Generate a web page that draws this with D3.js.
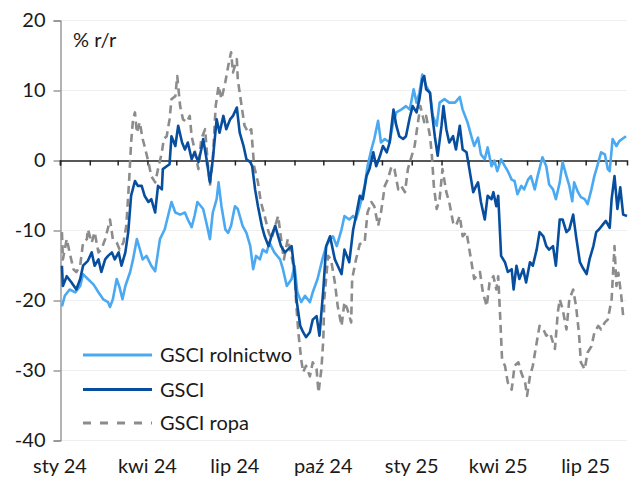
<!DOCTYPE html>
<html><head><meta charset="utf-8">
<script src="https://cdn.jsdelivr.net/npm/d3@7"></script>
<style>
html,body{margin:0;padding:0;background:#fff;}
svg{display:block;font-family:Lato,"Open Sans",sans-serif;}
</style></head>
<body><svg id="c" width="629" height="478"></svg>
<script>
// Data: [days since 2024-01-01, % y/y]
const seriesNames = ["GSCI rolnictwo", "GSCI", "GSCI ropa"];
const gsciRolnictwo = [[2,-20.9],[5,-19.4],[10,-18.5],[16,-18.9],[21,-18],[24,-16.3],[29,-17],[35,-17.8],[40,-18.9],[45,-19.9],[50,-20.3],[52,-21],[55,-19.9],[59,-17],[62,-18.2],[65,-19.9],[68,-18],[73,-16],[76,-14.2],[80,-11.3],[83,-12.7],[86,-14.2],[90,-13.7],[95,-15.1],[99,-15.9],[104,-11.3],[109,-9.9],[116,-6],[120,-7.5],[125,-7.8],[130,-7.5],[133,-8.5],[137,-9.6],[140,-8],[143,-6],[149,-7],[153,-9.4],[156,-11.3],[159,-7.5],[163,-5.6],[165,-3.2],[168,-6.6],[172,-9.9],[175,-10.4],[178,-9.4],[182,-6.6],[185,-7],[190,-9.4],[194,-10.4],[198,-12.3],[201,-15.6],[204,-13.7],[208,-14.2],[211,-12.8],[215,-13.2],[218,-11.8],[223,-13.2],[229,-14.2],[232,-15.6],[236,-18],[241,-17],[244,-15.1],[247,-18.9],[251,-20.3],[255,-19.4],[260,-20.3],[263,-18.9],[268,-17],[273,-14.2],[277,-12.3],[281,-11.3],[284,-10.9],[288,-12.3],[293,-9.9],[296,-8],[301,-8.5],[305,-8],[308,-8.5],[312,-6.6],[317,-3.7],[320,-0.9],[324,1.5],[327,3],[331,5.6],[334,2.5],[338,3],[343,2.5],[346,4.9],[350,6.8],[355,7.2],[360,7.7],[364,7.2],[368,10.1],[371,8.2],[374,9.6],[377,12.2],[381,10.6],[385,9.6],[388,6.3],[392,4.9],[395,8.2],[400,8.7],[405,8.2],[411,8.2],[416,9],[419,7.2],[424,5.4],[428,3.4],[431,2],[435,3.2],[438,0.8],[442,0.1],[445,1.8],[449,-0.9],[452,-0.1],[455,-1.6],[459,0.1],[463,-0.9],[466,-1.6],[470,-2.8],[473,-3],[476,-4.9],[480,-3.7],[483,-4.2],[487,-2.8],[490,-2.3],[494,-4.2],[497,-2.3],[502,0.4],[506,-0.9],[509,-3.5],[513,-4.2],[516,-5.6],[520,-3.2],[523,-0.3],[527,-2.3],[530,-3.7],[533,-5.9],[535,-3.2],[539,-4.6],[542,-5.3],[546,-5.6],[549,-6.3],[553,-4.2],[556,-2.3],[559,-0.9],[563,1.1],[567,0.8],[570,-1.3],[572,-1.6],[575,3],[579,2],[582,2.7],[585,3],[589,3.4]];
const gsci = [[2,-15.1],[3,-18],[7,-16.6],[12,-17.5],[17,-18.5],[21,-17],[24,-15.1],[29,-14.4],[33,-13.2],[36,-15.1],[40,-14.2],[43,-16],[47,-14.2],[50,-13.7],[54,-13.2],[57,-14.2],[61,-13.2],[64,-15.1],[68,-13.2],[71,-10.3],[74,-5.1],[78,-3],[81,-3.7],[85,-3.7],[88,-5.1],[92,-6],[95,-5.6],[99,-7.5],[102,-3.7],[106,-4.2],[107,-1.3],[111,-0.9],[114,-0.6],[116,3.4],[120,2],[123,4.9],[127,2.5],[130,1.5],[133,2.5],[137,0.1],[140,1.1],[144,-0.3],[147,1.5],[149,3],[153,-0.3],[156,-3.2],[159,0.1],[163,5.8],[166,3.9],[170,6.3],[173,4.4],[177,5.8],[180,6.3],[184,7.5],[187,3.9],[191,2],[194,0.1],[198,-0.3],[200,-0.9],[203,-4.2],[206,-6.6],[210,-9.4],[213,-10.9],[217,-12.3],[220,-10.9],[224,-9.4],[227,-10.9],[230,-12.3],[234,-13.2],[237,-12.8],[241,-12.3],[244,-16],[246,-19.9],[250,-23.7],[253,-24.6],[256,-25.3],[260,-24.6],[263,-22.8],[267,-22.3],[270,-25.1],[274,-18.5],[277,-12.3],[281,-10.9],[286,-14.2],[289,-15.1],[293,-16.3],[296,-12.8],[301,-14.6],[305,-10],[308,-8],[312,-5.1],[315,-5.6],[319,-2.3],[322,-1.3],[326,1.1],[329,-0.9],[333,0.6],[336,2],[340,1.1],[343,2.5],[347,7.2],[350,4.9],[353,3.4],[357,3],[360,3.4],[364,6.1],[367,7.7],[371,6.8],[374,8.7],[377,11.5],[379,12],[381,10.1],[385,9.6],[387,6.8],[390,3.4],[393,0.6],[397,4.9],[399,7.7],[402,4.4],[405,2.5],[409,3.4],[412,1.5],[416,4.9],[419,1.5],[423,1.1],[426,-1.3],[430,-4.6],[433,-3.7],[435,-3.2],[438,-6],[442,-8.5],[445,-5.1],[449,-5.6],[451,-4.6],[454,-6.6],[456,-5.1],[459,-13.7],[463,-14.6],[466,-16],[470,-15.6],[472,-18.5],[475,-15.1],[478,-17],[482,-15.6],[485,-17.5],[489,-14.6],[492,-15.1],[496,-12.8],[499,-10.3],[503,-10.9],[506,-12.3],[509,-12.8],[513,-12.3],[516,-15.1],[520,-8.5],[523,-8.5],[527,-10.3],[530,-9.9],[534,-7.8],[537,-10.9],[541,-14.6],[544,-15.4],[548,-16.3],[551,-14.2],[555,-12.3],[558,-10.3],[561,-9.9],[565,-9.2],[568,-8.7],[572,-9.7],[574,-5.6],[577,-2.3],[580,-7],[583,-3.9],[586,-7.8],[590,-8]];
const gsciRopa = [[2,-10.3],[3,-14.2],[7,-11.3],[10,-13.2],[14,-15.6],[17,-16],[21,-15.1],[24,-11.8],[28,-11.3],[29,-9.9],[33,-11.8],[36,-10.3],[40,-13.2],[43,-12.8],[47,-11.3],[50,-9.7],[52,-8.5],[55,-11.3],[59,-11.8],[62,-12.8],[66,-11.8],[69,-9.4],[72,-2.8],[74,2.5],[76,5.8],[78,6.8],[80,3.9],[83,5.4],[86,3],[88,2],[92,-0.3],[95,-2.3],[99,-3.2],[102,-1.3],[106,1.1],[108,3],[111,3.4],[114,5.8],[116,8.7],[120,9.1],[122,12],[125,7.7],[128,5.8],[132,5.4],[135,6.3],[137,3.4],[140,1.5],[144,-1.3],[147,3],[151,4.4],[154,-0.9],[156,-3.7],[159,0.1],[162,7.7],[165,10.6],[168,8.7],[172,11.1],[175,13.4],[178,15.4],[180,12.5],[184,14.4],[185,11.5],[189,7.7],[192,4.9],[196,3.9],[199,4.4],[202,-0.9],[206,-3.2],[209,-6],[213,-8],[217,-10.3],[220,-11.3],[224,-9.4],[227,-8],[231,-12.3],[233,-14.2],[237,-11.3],[241,-13.7],[244,-16],[246,-20.9],[248,-24.6],[251,-28.5],[253,-30.3],[256,-29.4],[260,-30.9],[263,-28.9],[267,-29.9],[269,-33.2],[272,-29.9],[274,-25.6],[275,-19.9],[279,-13.7],[282,-14.2],[286,-17.5],[289,-20.9],[293,-23.7],[296,-20.3],[299,-21.3],[303,-23.2],[304,-17],[308,-14.2],[312,-12],[317,-11.8],[320,-7.5],[324,-6],[327,-6.6],[331,-9.4],[334,-7.5],[338,-3.7],[341,-2.8],[345,-0.9],[348,-1.3],[352,-4.2],[355,-3.7],[359,-4.6],[362,-1.3],[366,0.6],[369,2],[372,4.9],[375,7.7],[379,5.4],[381,6.3],[385,3.4],[387,0.6],[389,-3.7],[392,-7],[395,-5.6],[398,-1.3],[402,-4.6],[405,-6],[409,-8.9],[412,-9.4],[416,-8],[419,-10.9],[423,-10.3],[426,-12.8],[431,-17],[437,-16],[440,-18.9],[444,-20.9],[447,-17.5],[451,-16.6],[454,-18.5],[456,-16.6],[458,-22.3],[460,-28.5],[463,-29.4],[466,-31.8],[470,-32.8],[473,-29.4],[477,-28.9],[480,-30.4],[484,-31.8],[486,-33.7],[489,-30.9],[492,-29.4],[496,-26.1],[499,-23.7],[503,-24.2],[506,-25.1],[510,-24.7],[515,-27],[518,-21.8],[520,-19.9],[523,-21.3],[527,-24.2],[530,-19.9],[534,-18.5],[537,-20.9],[540,-24.7],[542,-28.9],[546,-29.9],[549,-27.5],[553,-26.6],[556,-24.7],[560,-23.7],[563,-24.2],[567,-23.2],[570,-22.8],[574,-19.9],[577,-12.3],[579,-18],[581,-16.1],[584,-19.4],[586,-22.3],[589,-22.3]];
const yTicks = [-40, -30, -20, -10, 0, 10, 20];
const monthLabels = ["sty","lut","mar","kwi","maj","cze","lip","sie","wrz","paź","lis","gru"];
const labeledMonths = [0, 3, 6, 9];
const yTitle = "% r/r";

const colors = ["#4ba9f2", "#074e9e", "#8c8c8c"];
const start = new Date(2024, 0, 1);
const toDate = d => d3.timeDay.offset(start, d);

const svg = d3.select("#c");
const x = d3.scaleTime().domain([start, new Date(2025, 7, 13)]).range([60, 627]);
const y = d3.scaleLinear().domain([-40, 20]).range([440, 20]);
const font = "Lato, 'Open Sans', sans-serif";
const fs = 20;

// grid
svg.append("g").selectAll("line").data(yTicks.filter(v => v !== 0)).join("line")
  .attr("x1", 60).attr("x2", 627)
  .attr("y1", d => Math.round(y(d)) + 0.5).attr("y2", d => Math.round(y(d)) + 0.5)
  .attr("stroke", "#efefef").attr("stroke-width", 1);

// y axis
const yAxis = svg.append("g").attr("transform", "translate(60.5,0.5)")
  .call(d3.axisLeft(y).tickValues(yTicks).tickSize(7).tickPadding(8).tickFormat(d3.format("d")));
yAxis.select(".domain").attr("stroke", "#808080").attr("stroke-width", 1.2);
yAxis.selectAll(".tick line").attr("stroke", "#808080").attr("stroke-width", 1.2);
yAxis.selectAll("text").attr("font-size", fs).attr("font-family", font).attr("fill", "#1a1a1a")
  .text(d => d < 0 ? "-" + Math.abs(d) : d);

// zero line with monthly ticks
const zeroY = Math.round(y(0)) + 0.5;
const xAxis = svg.append("g").attr("transform", `translate(0,${zeroY})`)
  .call(d3.axisBottom(x).ticks(d3.timeMonth.every(1)).tickSize(5).tickFormat(""));
xAxis.select(".domain").attr("stroke", "#222").attr("stroke-width", 1.5);
xAxis.selectAll(".tick line").attr("stroke", "#222").attr("stroke-width", 1.5);

// x labels
const labelDates = d3.timeMonth.range(start, new Date(2025, 7, 2)).filter(d => labeledMonths.includes(d.getMonth()));
svg.append("g").selectAll("text").data(labelDates).join("text")
  .attr("x", d => x(d)).attr("y", 473).attr("text-anchor", "middle")
  .attr("font-size", fs).attr("font-family", font).attr("fill", "#1a1a1a")
  .text(d => monthLabels[d.getMonth()] + " " + String(d.getFullYear()).slice(2));

// y title
svg.append("text").attr("x", 73).attr("y", 47).attr("font-size", fs).attr("font-family", font)
  .attr("fill", "#1a1a1a").text(yTitle);

const line = d3.line().x(d => x(toDate(d[0]))).y(d => y(d[1]));
const data = [gsciRolnictwo, gsci, gsciRopa];
const drawOrder = [2, 0, 1];
drawOrder.forEach(i => {
  svg.append("path").datum(data[i]).attr("d", line).attr("fill", "none")
    .attr("stroke", colors[i]).attr("stroke-width", 2.6)
    .attr("stroke-linejoin", "round")
    .attr("stroke-dasharray", i === 2 ? "8,5" : null);
});

// legend
const legY = [355, 389.5, 423];
const leg = svg.append("g");
seriesNames.forEach((n, i) => {
  leg.append("line").attr("x1", 83).attr("x2", 152).attr("y1", legY[i]).attr("y2", legY[i])
    .attr("stroke", colors[i]).attr("stroke-width", 3)
    .attr("stroke-dasharray", i === 2 ? "8,9" : null);
  leg.append("text").attr("x", 160).attr("y", legY[i]).attr("dy", "0.35em")
    .attr("font-size", fs).attr("font-family", font).attr("fill", "#1a1a1a").text(n);
});
</script></body></html>
